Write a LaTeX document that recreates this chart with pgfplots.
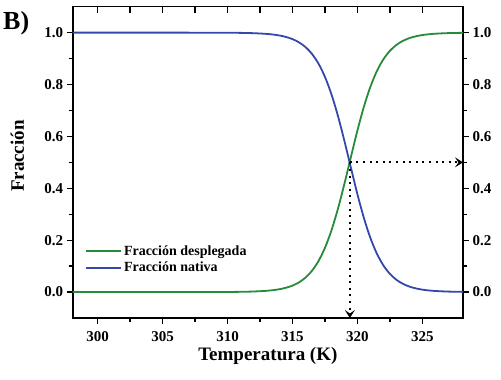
\documentclass[border=0pt]{standalone}
\usepackage{fontspec}
\setmainfont{Liberation Serif}
\usepackage{pgfplots}
\usepackage{pgfplotstable}
\pgfplotsset{compat=1.18}
\usetikzlibrary{arrows.meta}
\definecolor{cgreen}{RGB}{38,140,58}
\definecolor{cblue}{RGB}{52,72,172}
\pgfplotstableread{
T desp nat
298 0.0000 1.0000
301 0.0000 1.0000
304 0.0000 1.0000
306 0.0000 1.0000
308 0.0001 0.9999
309 0.0002 0.9998
310 0.0004 0.9996
311 0.0009 0.9991
312 0.0021 0.9979
313 0.0048 0.9952
313.5 0.0073 0.9927
314 0.0110 0.9890
314.5 0.0166 0.9834
315 0.0249 0.9751
315.5 0.0373 0.9627
316 0.0555 0.9445
316.5 0.0819 0.9181
317 0.1192 0.8808
317.5 0.1703 0.8297
318 0.2375 0.7625
318.5 0.3208 0.6792
319 0.4174 0.5826
319.5 0.5208 0.4792
320 0.6225 0.3775
320.5 0.7144 0.2856
321 0.7914 0.2086
321.5 0.8520 0.1480
322 0.8972 0.1028
322.5 0.9298 0.0702
323 0.9526 0.0474
323.5 0.9682 0.0318
324 0.9788 0.0212
324.5 0.9859 0.0141
325 0.9907 0.0093
325.5 0.9938 0.0062
326 0.9959 0.0041
327 0.9982 0.0018
328 0.9992 0.0008
328.5 0.9995 0.0005
}\datatable
\pgfplotsset{
  common/.style={
    at={(72.7pt,62pt)}, anchor=south west,
    width=390.3pt, height=311.3pt, scale only axis,
    xmin=298.08, xmax=328.13, ymin=-0.1, ymax=1.1,
    xtick={300,305,310,315,320,325}, minor x tick num=1,
    ytick={0,0.2,0.4,0.6,0.8,1.0}, minor y tick num=1,
    axis line style={line width=1.6pt},
    every tick/.style={black, line width=1.3pt},
    major tick length=6pt, minor tick length=4pt,
    tick label style={font=\fontsize{15}{18}\selectfont\bfseries},
    /pgf/number format/assume math mode=true,
    yticklabel style={/pgf/number format/fixed, /pgf/number format/fixed zerofill, /pgf/number format/precision=1},
    xticklabel style={/pgf/number format/1000 sep={}, yshift=-4pt},
  },
  arr/.style={black, line width=2pt, dash pattern=on 2pt off 4.6pt,
    -{Stealth[length=8pt,width=10pt,inset=3.5pt]}, forget plot},
}
\begin{document}
\begin{tikzpicture}[x=1pt,y=1pt]
\useasboundingbox (0,0) rectangle (501,380);
% top ticks inward
\begin{axis}[common, xtick pos=top, ytick=\empty, tick align=inside,
  minor tick length=6pt, xticklabels={}]
\end{axis}
% right axis
\begin{axis}[common, ytick pos=right, yticklabel pos=right, xtick=\empty, tick align=outside]
\end{axis}
% main axis
\begin{axis}[common, xtick pos=bottom, ytick pos=left, tick align=outside,
  xlabel={Temperatura (K)}, ylabel={Fracción},
  xlabel style={font=\fontsize{19}{22}\selectfont\bfseries, at={(axis description cs:0.5,0)}, anchor=base, yshift=-43pt},
  ylabel style={font=\fontsize{19}{22}\selectfont\bfseries, at={(axis description cs:-0.125,0.52)}, anchor=base, rotate=0},
  legend style={draw=none, fill=none, at={(0.031,0.24)}, anchor=north west,
    font=\fontsize{14}{17}\selectfont\bfseries, inner sep=0pt, row sep=1.5pt},
  legend cell align=left,
  legend image code/.code={\draw[line width=2pt,#1] plot coordinates {(0pt,0pt) (17.5pt,0pt) (35pt,0pt)};},
]
\addplot[color=cgreen, line width=1.8pt, smooth] table[x=T, y=desp] {\datatable};
\addlegendentry{Fracción desplegada}
\addplot[color=cblue, line width=1.8pt, smooth] table[x=T, y=nat] {\datatable};
\addlegendentry{Fracción nativa}
\addplot[arr] coordinates {(319.42,0.5) (319.42,-0.1)};
\addplot[arr] coordinates {(319.42,0.5) (328.13,0.5)};
\end{axis}
\node[anchor=base west, font=\fontsize{26}{30}\selectfont\bfseries, inner sep=0pt] at (3pt,350pt) {B)};
\end{tikzpicture}
\end{document}
